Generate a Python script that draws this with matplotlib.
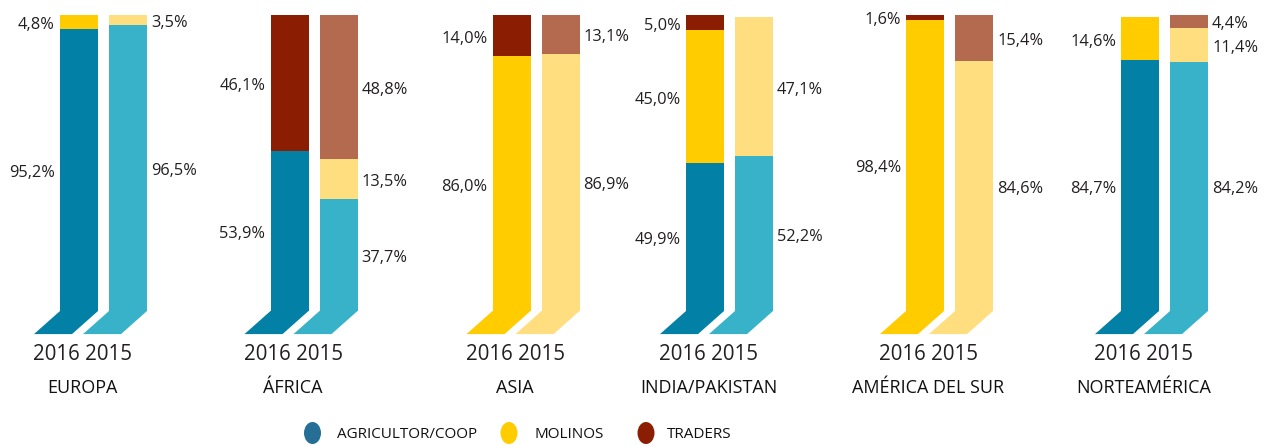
import matplotlib
matplotlib.use("Agg")
import matplotlib.pyplot as plt
from matplotlib.patches import Polygon, Ellipse
from matplotlib import font_manager

# ---------------- data ----------------
regions = ["EUROPA", "ÁFRICA", "ASIA", "INDIA/PAKISTAN", "AMÉRICA DEL SUR", "NORTEAMÉRICA"]
years = ["2016", "2015"]
series = ["AGRICULTOR/COOP", "MOLINOS", "TRADERS"]

agri_2016 = [95.2, 53.9, 0.0, 49.9, 0.0, 84.7]
molinos_2016 = [4.8, 0.0, 86.0, 45.0, 98.4, 14.6]
traders_2016 = [0.0, 46.1, 14.0, 5.0, 1.6, 0.0]

agri_2015 = [96.5, 37.7, 0.0, 52.2, 0.0, 84.2]
molinos_2015 = [3.5, 13.5, 86.9, 47.1, 84.6, 11.4]
traders_2015 = [0.0, 48.8, 13.1, 0.0, 15.4, 4.4]

# ---------------- style / layout ----------------
colors_2016 = ["#0380a6", "#ffcc00", "#8b1e02"]
colors_2015 = ["#37b2c9", "#ffde80", "#b46a4e"]
legend_colors = ["#256e96", "#ffcc00", "#8b1e02"]
text_color = "#231f20"

W, H = 1265, 446
BASE_PX = 311.0
PX_PER_PCT = 2.96
group_centers = [103.5, 314, 536, 729.5, 949.5, 1164.5]
bar_w = 38
gap = 11
foot_dx = 26
foot_dy = 7.8  # percent units


def py(p):
    """pixel row -> data y (percent units)"""
    return (BASE_PX - p) / PX_PER_PCT


names = [f.name for f in font_manager.fontManager.ttflist]
main_font = "Open Sans" if "Open Sans" in names else "DejaVu Sans"
narrow_font = "Liberation Sans Narrow" if "Liberation Sans Narrow" in names else main_font
legend_size = 12 if narrow_font != main_font else 11

fig = plt.figure(figsize=(W / 100, H / 100), dpi=100)
ax = fig.add_axes([0, 0, 1, 1])
ax.set_xlim(0, W)
ax.set_ylim(py(H), py(0))
ax.axis("off")


def fmt(v):
    return f"{v:.1f}".replace(".", ",") + "%"


data = {
    0: [agri_2016, molinos_2016, traders_2016],
    1: [agri_2015, molinos_2015, traders_2015],
}
cols = {0: colors_2016, 1: colors_2015}

for gi, gc in enumerate(group_centers):
    for yi in (0, 1):
        if yi == 0:
            x0 = gc - gap / 2 - bar_w
        else:
            x0 = gc + gap / 2
        bottom = 0.0
        foot_color = None
        for si in range(3):
            v = data[yi][si][gi]
            if v <= 0:
                continue
            c = cols[yi][si]
            if foot_color is None:
                foot_color = c
            ax.bar(x0, v, width=bar_w, bottom=bottom, align="edge", color=c,
                   linewidth=0)
            mid = bottom + v / 2
            if yi == 0:
                ax.text(x0 - 5, mid - 1.0, fmt(v), ha="right", va="center",
                        fontsize=11.8, color=text_color, family=main_font)
            else:
                ax.text(x0 + bar_w + 4, mid - 1.0, fmt(v), ha="left", va="center",
                        fontsize=11.8, color=text_color, family=main_font)
            bottom += v
        foot = Polygon([(x0, 0), (x0 + bar_w, 0),
                        (x0 + bar_w - foot_dx, -foot_dy), (x0 - foot_dx, -foot_dy)],
                       closed=True, facecolor=foot_color, edgecolor="none")
        ax.add_patch(foot)
    ax.text(gc - 21, py(355), " ".join(years), ha="center", va="center",
            fontsize=14.8, color=text_color, family=main_font)
    ax.text(gc - 21, py(388), regions[gi], ha="center", va="center",
            fontsize=13, color="#111111", family=main_font)

# legend
leg_x = [312.5, 509, 646]
leg_tx = [337, 535, 667]
for lx, tx, c, name in zip(leg_x, leg_tx, legend_colors, series):
    ax.add_patch(Ellipse((lx, py(433)), width=17, height=22 / PX_PER_PCT,
                         facecolor=c, edgecolor="none"))
    ax.text(tx, py(434), name, ha="left", va="center", fontsize=legend_size,
            color="#111111", family=narrow_font)

fig.savefig("out.png", dpi=100)
